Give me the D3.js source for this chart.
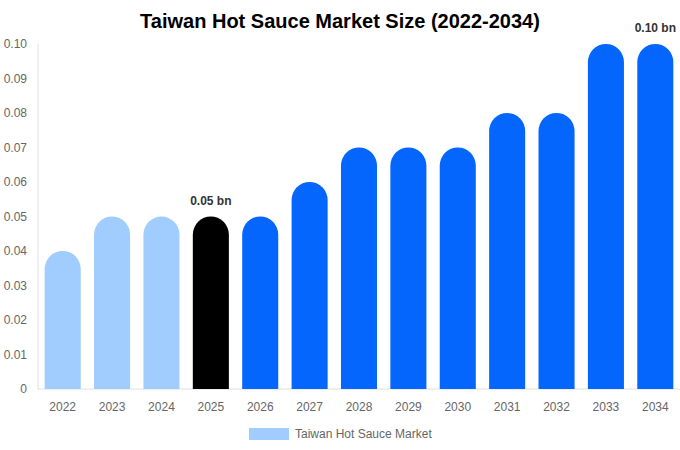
<!DOCTYPE html>
<html><head><meta charset="utf-8">
<script src="https://cdn.jsdelivr.net/npm/d3@7"></script>
<style>body{margin:0;background:#fff;font-family:"Liberation Sans",Arial,sans-serif}</style>
</head><body><svg id="c" width="680" height="450"></svg>
<script>
const years = ["2022","2023","2024","2025","2026","2027","2028","2029","2030","2031","2032","2033","2034"];
const values = [0.04,0.05,0.05,0.05,0.05,0.06,0.07,0.07,0.07,0.08,0.08,0.10,0.10];
const yTicks = [0,0.01,0.02,0.03,0.04,0.05,0.06,0.07,0.08,0.09,0.10];
const labels = {"2025":"0.05 bn","2034":"0.10 bn"};
const colorFor = y => (+y < 2025 ? "#a0cdfd" : (+y === 2025 ? "#000000" : "#0466fd"));

const svg = d3.select("#c");
const L=38,R=680,T=44,B=389;
const x = d3.scaleBand().domain(years).range([L,R]).paddingInner(0.27).paddingOuter(0.135);
const y = d3.scaleLinear().domain([0,0.10]).range([B,T]);

svg.append("text").attr("x",340).attr("y",28).attr("text-anchor","middle")
  .attr("font-size",20).attr("font-weight","bold").attr("fill","#000").text("Taiwan Hot Sauce Market Size (2022-2034)");

svg.append("line").attr("x1",L).attr("x2",L).attr("y1",T).attr("y2",B).attr("stroke","#e0e0e0");
svg.append("line").attr("x1",L).attr("x2",R).attr("y1",B).attr("y2",B).attr("stroke","#e0e0e0");

svg.selectAll(".yt").data(yTicks).enter().append("text")
  .attr("x",27).attr("y",d=>y(d)+4).attr("text-anchor","end").attr("font-size",12).attr("fill","#666")
  .text(d=>d===0?"0":d.toFixed(2));

svg.selectAll(".xt").data(years).enter().append("text")
  .attr("x",d=>x(d)+x.bandwidth()/2).attr("y",411).attr("text-anchor","middle").attr("font-size",12).attr("fill","#666").text(d=>d);

const w = x.bandwidth(), r = w/2;
svg.selectAll(".bar").data(years).enter().append("path")
  .attr("fill",d=>colorFor(d))
  .attr("d",(d,i)=>{const x0=x(d), top=y(values[i]);
    return `M${x0},${B}L${x0},${top+r}A${r},${r} 0 0 1 ${x0+w},${top+r}L${x0+w},${B}Z`;});

svg.selectAll(".lab").data(years.filter(d=>labels[d])).enter().append("text")
  .attr("x",d=>x(d)+w/2).attr("y",d=>y(values[years.indexOf(d)])-12).attr("text-anchor","middle")
  .attr("font-size",12).attr("font-weight","bold").attr("fill","#333").text(d=>labels[d]);

svg.append("rect").attr("x",249).attr("y",428).attr("width",40).attr("height",12).attr("fill","#a0cdfd");
svg.append("text").attr("x",295).attr("y",438).attr("font-size",12).attr("fill","#666").text("Taiwan Hot Sauce Market");
</script></body></html>
